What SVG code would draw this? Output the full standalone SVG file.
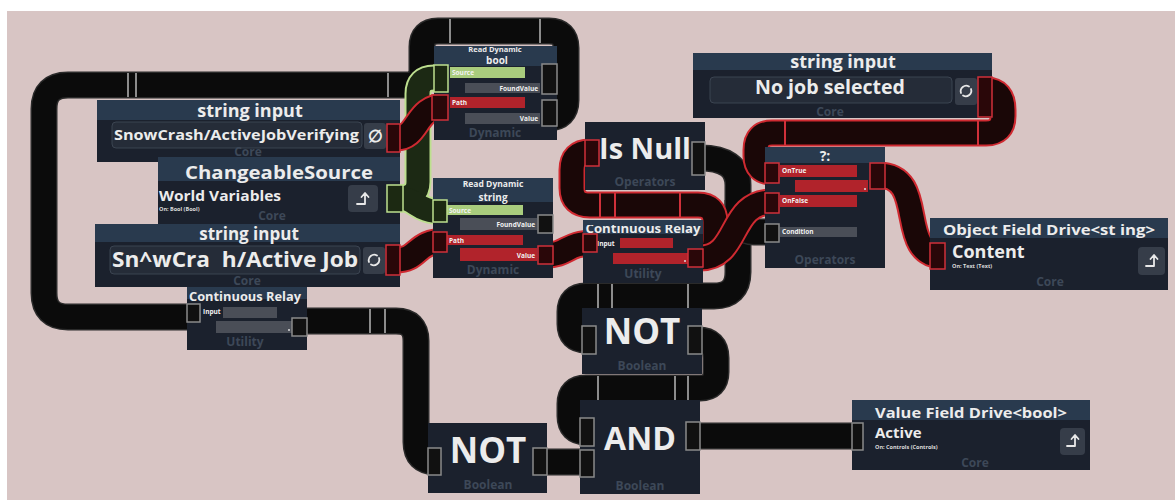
<svg xmlns="http://www.w3.org/2000/svg" width="1175" height="500" viewBox="0 0 1175 500">
<style>
.body{fill:#1b212d}
.hdr{fill:#293a4e}
.t{font-family:"Open Sans","Liberation Sans",sans-serif;font-weight:700;fill:#ececec}
.c{text-anchor:middle}
.foot{font-family:"Open Sans","Liberation Sans",sans-serif;font-weight:700;fill:#3d4858;font-size:12px;text-anchor:middle}
.tiny{font-family:"Open Sans","Liberation Sans",sans-serif;font-weight:700;fill:#dcdcdc;font-size:5.5px}
.lbl{font-family:"Open Sans","Liberation Sans",sans-serif;font-weight:700;fill:#f2f2f2;font-size:6.5px}
.r{text-anchor:end}
.field{fill:#252c38;stroke:#3b4451;stroke-width:1}
.btn{fill:#363d49}
.ico{fill:none;stroke:#e8e8e8;stroke-width:1.8;stroke-linecap:round;stroke-linejoin:round}
.w{fill:none;stroke-linecap:butt;stroke-linejoin:round}
.bko{stroke:#2a2a2a;stroke-width:27}
.bk{stroke:#0b0b0b;stroke-width:24}
.rdo{stroke:#cf2a31;stroke-width:27}
.rd{stroke:#1a0707;stroke-width:23}
.gro{stroke:#bddf8f;stroke-width:27}
.gr{stroke:#1c2914;stroke-width:23}
.tick{stroke:#8c8c8c;stroke-width:2}
.tickr{stroke:#d0303a;stroke-width:2}
.pk{fill:#111;stroke:#8a8a8a;stroke-width:1.5}
.pr{fill:#2a0709;stroke:#d0303a;stroke-width:1.5}
.pg{fill:#1c2912;stroke:#bddf8f;stroke-width:1.5}
.bg{fill:#a9cc7d}
.brd{fill:#b1232b}
.bgy{fill:#4a4e57}
</style>
<defs>
<path id="wA" d="M 548,118 Q 566,118 566,100 V 48 Q 566,31 549,31 H 438 Q 422,31 422,47 V 70 Q 422,85 406,85 H 68 Q 44,85 44,109 V 293 Q 44,317 68,317 H 192"/>
<path id="wB1" d="M 700,158 Q 738,158 738,185 V 272 Q 738,296 714,296 H 586 Q 570,296 570,312 V 324 Q 570,340 586,340 H 592"/>
<path id="wB1c" d="M 738,200 V 216 Q 738,232 754,232 H 772"/>
<path id="wB2" d="M 698,340 Q 716,340 716,358 V 372 Q 716,388 700,388 H 586 Q 570,388 570,404 V 416 Q 570,432 586,432 H 594"/>
<path id="wB3" d="M 540,462 H 594"/>
<path id="wB4" d="M 298,321 H 396 Q 416,321 416,341 V 442 Q 416,462 436,462 H 440"/>
<path id="wB5" d="M 696,436 H 860"/>
<path id="wG1" d="M 398,198 Q 418,198 418,182 V 94 Q 418,78 434,78 H 448"/>
<path id="wG2" d="M 398,198 C 418,198 414,212 446,212"/>
<path id="wR1" d="M 396,138 C 420,138 414,106 446,106"/>
<path id="wR2" d="M 396,260 C 420,260 414,241 446,241"/>
<path id="wR3" d="M 546,255 C 568,255 566,243 594,243"/>
<path id="wR4" d="M 696,258 Q 715,258 715,240 V 222 Q 715,205 698,205 H 590 Q 572,205 572,188 V 170 Q 572,152 590,152 H 598"/>
<path id="wR5" d="M 700,258 C 740,258 728,202 772,202"/>
<path id="wR6" d="M 986,90 Q 1003,90 1003,110 V 116 Q 1003,133 986,133 H 772 Q 756,133 756,150 V 156 Q 756,172 772,172 H 778"/>
<path id="wR7" d="M 878,175 C 930,175 894,256 944,256"/>
<g id="icoExp"><path class="ico" d="M -6,5 H 2 V -5 M -1.5,-2 L 2,-6 L 5.5,-2"/></g>
<g id="icoRef"><path class="ico" d="M -5,2 A 5.5,5.5 0 0 1 3,-4.5 M 5,-2 A 5.5,5.5 0 0 1 -3,4.5"/></g>
<clipPath id="clipRel2"><rect x="583" y="225" width="120" height="20"/></clipPath>
</defs>

<rect x="0" y="0" width="1175" height="500" fill="#ffffff"/>
<rect x="7" y="11" width="1168" height="489" fill="#d8c5c4"/>

<g id="connectors">
  <use href="#wA" class="w bko"/><use href="#wA" class="w bk"/>
  <use href="#wB1" class="w bko"/><use href="#wB1" class="w bk"/>
  <use href="#wB1c" class="w bko"/><use href="#wB1c" class="w bk"/>
  <use href="#wB2" class="w bko"/><use href="#wB2" class="w bk"/>
  <use href="#wB3" class="w bko"/><use href="#wB3" class="w bk"/>
  <use href="#wB4" class="w bko"/><use href="#wB4" class="w bk"/>
  <use href="#wB5" class="w bko"/><use href="#wB5" class="w bk"/>
  <use href="#wG1" class="w gro"/><use href="#wG2" class="w gro"/>
  <use href="#wG1" class="w gr"/><use href="#wG2" class="w gr"/>
  <use href="#wR1" class="w rdo"/><use href="#wR1" class="w rd"/>
  <use href="#wR2" class="w rdo"/><use href="#wR2" class="w rd"/>
  <use href="#wR3" class="w rdo"/><use href="#wR3" class="w rd"/>
  <use href="#wR4" class="w rdo"/><use href="#wR4" class="w rd"/>
  <use href="#wR5" class="w rdo"/><use href="#wR5" class="w rd"/>
  <use href="#wR6" class="w rdo"/><use href="#wR6" class="w rd"/>
  <use href="#wR7" class="w rdo"/><use href="#wR7" class="w rd"/>
  <line class="tick" x1="128" y1="73" x2="128" y2="97"/>
  <line class="tick" x1="136" y1="73" x2="136" y2="97"/>
  <line class="tick" x1="388" y1="73" x2="388" y2="97"/>
  <line class="tick" x1="450" y1="19" x2="450" y2="43"/>
  <line class="tick" x1="540" y1="19" x2="540" y2="43"/>
  <line class="tick" x1="370" y1="309" x2="370" y2="333"/>
  <line class="tick" x1="385" y1="309" x2="385" y2="333"/>
  <line class="tick" x1="598" y1="284" x2="598" y2="308"/>
  <line class="tick" x1="612" y1="284" x2="612" y2="308"/>
  <line class="tick" x1="688" y1="284" x2="688" y2="308"/>
  <line class="tick" x1="598" y1="376" x2="598" y2="400"/>
  <line class="tick" x1="675" y1="376" x2="675" y2="400"/>
  <line class="tick" x1="688" y1="376" x2="688" y2="400"/>
  <line class="tickr" x1="600" y1="193" x2="600" y2="217"/>
  <line class="tickr" x1="615" y1="193" x2="615" y2="217"/>
  <line class="tickr" x1="680" y1="193" x2="680" y2="217"/>
  <line class="tickr" x1="785" y1="121" x2="785" y2="145"/>
  <line class="tickr" x1="978" y1="121" x2="978" y2="145"/>
</g>

<g id="node-read-bool">
  <rect class="body" x="434" y="46" width="123" height="94"/>
  <rect class="hdr" x="434" y="46" width="123" height="20"/>
  <text class="t c" x="495" y="52" font-size="7.5">Read Dynamic</text>
  <text class="t c" x="497" y="64" font-size="10">bool</text>
  <rect class="bg" x="450" y="67" width="75" height="11"/>
  <text class="lbl" x="452" y="75">Source</text>
  <rect class="bgy" x="465" y="83" width="75" height="10"/>
  <text class="lbl r" x="538" y="91">FoundValue</text>
  <rect class="brd" x="450" y="97" width="75" height="11"/>
  <text class="lbl" x="452" y="105">Path</text>
  <rect class="bgy" x="465" y="113" width="75" height="11"/>
  <text class="lbl r" x="538" y="121">Value</text>
  <text class="foot" x="495" y="137">Dynamic</text>
  <rect class="pg" x="434" y="65" width="14" height="27"/>
  <rect class="pr" x="432" y="95" width="16" height="25"/>
  <rect class="pk" x="542" y="64" width="15" height="30"/>
  <rect class="pk" x="542" y="100" width="15" height="26"/>
</g>

<g id="node-read-string">
  <rect class="body" x="433" y="178" width="120" height="100"/>
  <rect class="hdr" x="433" y="178" width="120" height="24"/>
  <text class="t c" x="493" y="187" font-size="8.5">Read Dynamic</text>
  <text class="t c" x="493" y="201" font-size="10">string</text>
  <rect class="bg" x="447" y="205" width="76" height="10"/>
  <text class="lbl" x="449" y="213">Source</text>
  <rect class="bgy" x="460" y="218" width="77" height="12"/>
  <text class="lbl r" x="535" y="227">FoundValue</text>
  <rect class="brd" x="447" y="235" width="76" height="10"/>
  <text class="lbl" x="449" y="243">Path</text>
  <rect class="brd" x="460" y="248" width="77" height="13"/>
  <text class="lbl r" x="535" y="258">Value</text>
  <text class="foot" x="493" y="274">Dynamic</text>
  <rect class="pg" x="433" y="200" width="14" height="22"/>
  <rect class="pr" x="433" y="232" width="14" height="20"/>
  <rect class="pk" x="538" y="215" width="15" height="18"/>
  <rect class="pr" x="538" y="246" width="15" height="18"/>
</g>

<g id="node-string-input-1">
  <rect class="body" x="97" y="100" width="303" height="62"/>
  <rect class="hdr" x="97" y="100" width="303" height="20"/>
  <text class="t c" x="250" y="117" font-size="18">string input</text>
  <rect class="field" x="112" y="122" width="250" height="26" rx="4"/>
  <text class="t" x="114" y="140" font-size="15" textLength="245" lengthAdjust="spacingAndGlyphs">SnowCrash/ActiveJobVerifying</text>
  <rect class="btn" x="364" y="123" width="22" height="26" rx="3"/>
  <text class="t c" x="375" y="142" font-size="17" font-family="DejaVu Sans">∅</text>
  <rect class="pr" x="387" y="124" width="13" height="28"/>
  <text class="foot" x="248" y="156" font-size="8">Core</text>
</g>

<g id="node-changeable-source">
  <rect class="body" x="158" y="157" width="242" height="70"/>
  <rect class="hdr" x="158" y="157" width="242" height="24"/>
  <text class="t c" x="279" y="178.5" font-size="18.5" textLength="188" lengthAdjust="spacingAndGlyphs">ChangeableSource</text>
  <text class="t" x="159" y="200.5" font-size="15" textLength="122" lengthAdjust="spacingAndGlyphs">World Variables</text>
  <text class="tiny" x="159" y="211">On: Bool (Bool)</text>
  <rect class="btn" x="348" y="185" width="30" height="27" rx="4"/>
  <use href="#icoExp" x="363" y="199"/>
  <rect class="pg" x="387" y="185" width="16" height="27"/>
  <text class="foot" x="272" y="220" font-size="8.5">Core</text>
</g>

<g id="node-relay-left">
  <rect class="body" x="187" y="283" width="120" height="67"/>
  <rect class="hdr" x="187" y="283" width="120" height="16"/>
  <text class="t c" x="245" y="301" font-size="13" textLength="112" lengthAdjust="spacingAndGlyphs">Continuous Relay</text>
  <text class="lbl" x="203" y="314">Input</text>
  <rect class="bgy" x="223" y="307" width="54" height="11"/>
  <rect class="bgy" x="216" y="321" width="76" height="12"/>
  <circle cx="289" cy="330" r="1" fill="#ddd"/>
  <text class="foot" x="245" y="346">Utility</text>
  <rect class="pk" x="187" y="304" width="13" height="18"/>
  <rect class="pk" x="292" y="318" width="15" height="18"/>
</g>

<g id="node-string-input-2">
  <rect class="body" x="95" y="224" width="305" height="63"/>
  <rect class="hdr" x="95" y="224" width="305" height="18"/>
  <text class="t c" x="249" y="240" font-size="17">string input</text>
  <rect class="field" x="110" y="246" width="250" height="28" rx="4"/>
  <text class="t" x="112" y="267" font-size="22" textLength="246" lengthAdjust="spacingAndGlyphs" xml:space="preserve">Sn^wCra  h/Active Job</text>
  <rect class="btn" x="363" y="247" width="22" height="27" rx="3"/>
  <use href="#icoRef" x="374" y="260"/>
  <rect class="pr" x="386" y="245" width="14" height="30"/>
  <text class="foot" x="247" y="284.5" font-size="8.5">Core</text>
</g>

<g id="node-is-null">
  <rect class="body" x="585" y="122" width="120" height="68"/>
  <text class="t c" x="645" y="159" font-size="29">Is Null</text>
  <text class="foot" x="645" y="186">Operators</text>
  <rect class="pr" x="585" y="140" width="14" height="26"/>
  <rect class="pk" x="692" y="142" width="13" height="33"/>
</g>

<g id="node-relay-mid">
  <rect class="body" x="583" y="220" width="120" height="63"/>
  <rect class="hdr" x="583" y="220" width="120" height="14"/>
  <text class="t c" x="643" y="233" font-size="13" textLength="115" lengthAdjust="spacingAndGlyphs" clip-path="url(#clipRel2)">Continuous Relay</text>
  <text class="lbl" x="597" y="246">Input</text>
  <rect class="brd" x="620" y="238" width="53" height="10"/>
  <rect class="brd" x="613" y="253" width="75" height="11"/>
  <circle cx="685" cy="261" r="1" fill="#ddd"/>
  <text class="foot" x="643" y="278">Utility</text>
  <rect class="pr" x="583" y="234" width="14" height="18"/>
  <rect class="pr" x="688" y="249" width="15" height="18"/>
</g>

<g id="node-not-mid">
  <rect class="body" x="582" y="308" width="120" height="66"/>
  <text class="t c" x="642" y="344" font-size="35">NOT</text>
  <text class="foot" x="642" y="370">Boolean</text>
  <rect class="pk" x="582" y="326" width="14" height="28"/>
  <rect class="pk" x="688" y="326" width="14" height="28"/>
</g>

<g id="node-and">
  <rect class="body" x="580" y="400" width="120" height="94"/>
  <text class="t c" x="640" y="450" font-size="32">AND</text>
  <text class="foot" x="640" y="490">Boolean</text>
  <rect class="pk" x="580" y="418" width="14" height="28"/>
  <rect class="pk" x="580" y="450" width="14" height="27"/>
  <rect class="pk" x="686" y="422" width="14" height="28"/>
</g>

<g id="node-not-left">
  <rect class="body" x="428" y="423" width="119" height="70"/>
  <text class="t c" x="488" y="463" font-size="35">NOT</text>
  <text class="foot" x="488" y="489">Boolean</text>
  <rect class="pk" x="428" y="448" width="13" height="27"/>
  <rect class="pk" x="533" y="448" width="14" height="27"/>
</g>

<g id="node-string-input-3">
  <rect class="body" x="693" y="53" width="299" height="65"/>
  <rect class="hdr" x="693" y="53" width="299" height="17"/>
  <text class="t c" x="843" y="68" font-size="18">string input</text>
  <rect class="field" x="710" y="77" width="242" height="26" rx="4"/>
  <text class="t c" x="830" y="94" font-size="19" textLength="150" lengthAdjust="spacingAndGlyphs">No job selected</text>
  <rect class="btn" x="955" y="78" width="22" height="27" rx="3"/>
  <use href="#icoRef" x="966" y="91"/>
  <rect class="pr" x="978" y="77" width="14" height="40"/>
  <text class="foot" x="830" y="116">Core</text>
</g>

<g id="node-conditional">
  <rect class="body" x="765" y="147" width="120" height="121"/>
  <rect class="hdr" x="765" y="147" width="120" height="16"/>
  <text class="t c" x="825" y="161" font-size="14">?:</text>
  <rect class="brd" x="780" y="165" width="77" height="12"/>
  <text class="lbl" x="782" y="173">OnTrue</text>
  <rect class="brd" x="795" y="180" width="73" height="12"/>
  <circle cx="865" cy="189" r="1" fill="#ddd"/>
  <rect class="brd" x="780" y="195" width="77" height="12"/>
  <text class="lbl" x="782" y="203">OnFalse</text>
  <rect class="bgy" x="780" y="227" width="77" height="10"/>
  <text class="lbl" x="782" y="234">Condition</text>
  <text class="foot" x="825" y="264">Operators</text>
  <rect class="pr" x="765" y="163" width="14" height="20"/>
  <rect class="pr" x="765" y="193" width="14" height="20"/>
  <rect class="pk" x="765" y="224" width="14" height="18"/>
  <rect class="pr" x="870" y="163" width="15" height="26"/>
</g>

<g id="node-object-field-drive">
  <rect class="body" x="930" y="218" width="238" height="72"/>
  <rect class="hdr" x="930" y="218" width="238" height="20"/>
  <text class="t" x="943" y="235" font-size="15" textLength="212" lengthAdjust="spacingAndGlyphs">Object Field Drive&lt;st ing&gt;</text>
  <text class="t" x="952" y="258" font-size="18">Content</text>
  <text class="tiny" x="952" y="268">On: Text (Text)</text>
  <rect class="btn" x="1138" y="247" width="27" height="28" rx="4"/>
  <use href="#icoExp" x="1152" y="261"/>
  <rect class="pr" x="930" y="243" width="15" height="26"/>
  <text class="foot" x="1050" y="286">Core</text>
</g>

<g id="node-value-field-drive">
  <rect class="body" x="852" y="400" width="238" height="70"/>
  <rect class="hdr" x="852" y="400" width="238" height="20"/>
  <text class="t" x="875" y="418" font-size="15" textLength="192" lengthAdjust="spacingAndGlyphs">Value Field Drive&lt;bool&gt;</text>
  <text class="t" x="875" y="438" font-size="15">Active</text>
  <text class="tiny" x="875" y="449">On: Controls (Controls)</text>
  <rect class="btn" x="1060" y="428" width="25" height="27" rx="4"/>
  <use href="#icoExp" x="1073" y="441"/>
  <rect class="pk" x="852" y="423" width="11" height="27"/>
  <text class="foot" x="975" y="467">Core</text>
</g>
</svg>
